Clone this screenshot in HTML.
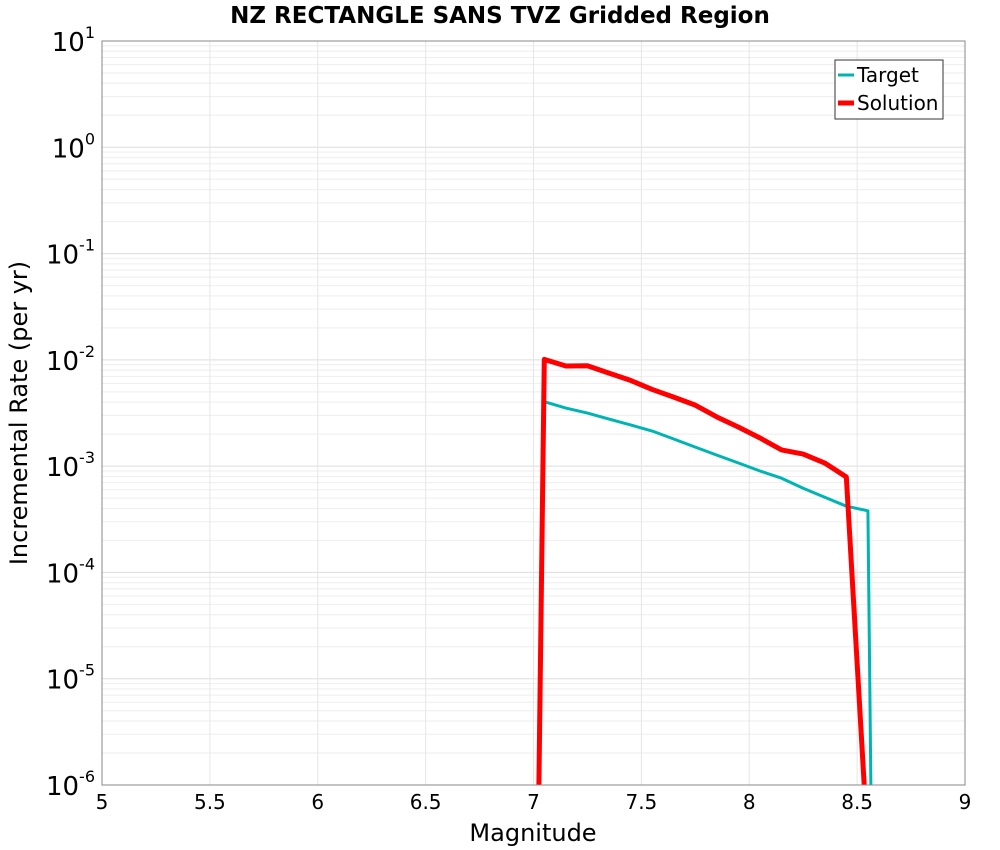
<!DOCTYPE html>
<html><head><meta charset="utf-8"><style>
html,body{margin:0;padding:0;background:#fff;overflow:hidden;font-family:"Liberation Sans","DejaVu Sans",sans-serif}
svg{display:block}
</style></head><body>
<svg id="chart" width="1000" height="850" xmlns="http://www.w3.org/2000/svg" font-family="DejaVu Sans, Liberation Sans, sans-serif">
<text x="500" y="23" text-anchor="middle" font-size="23" font-weight="bold">NZ RECTANGLE SANS TVZ Gridded Region</text>
<g id="grid"></g>
<defs><clipPath id="clip"><rect x="102" y="41" width="863" height="744"/></clipPath></defs>
<g id="series" clip-path="url(#clip)"></g>
<rect x="102" y="41" width="863" height="744" fill="none" stroke="#888" stroke-width="1"/>
<g id="xticks"></g><g id="yticks"></g>
<text x="533" y="841" text-anchor="middle" font-size="24">Magnitude</text>
<text transform="translate(27,413) rotate(-90)" text-anchor="middle" font-size="24">Incremental Rate (per yr)</text>
<g>
<rect x="835" y="60" width="108" height="59" fill="#fff" stroke="#333"/>
<line x1="838" y1="75" x2="854" y2="75" stroke="#00b4b4" stroke-width="3"/>
<text x="857" y="82" font-size="20">Target</text>
<line x1="838" y1="103" x2="854" y2="103" stroke="#f00" stroke-width="5"/>
<text x="857" y="110" font-size="20">Solution</text>
</g>
</svg>
<script>
const mags=[7.05,7.15,7.25,7.35,7.45,7.55,7.65,7.75,7.85,7.95,8.05,8.15,8.25,8.35,8.45,8.55];
const targetRates=[0.00404,0.00352,0.00316,0.00277,0.00244,0.00214,0.00180,0.00151,0.00127,0.00107,0.00090,0.00077,0.00062,0.00051,0.00042,0.00038];
const solutionRates=[0.0101,0.00875,0.0088,0.00751,0.00641,0.00527,0.00446,0.00375,0.00290,0.00233,0.00184,0.00142,0.00130,0.00107,0.00079,0.00000025];
const xTicks=[5,5.5,6,6.5,7,7.5,8,8.5,9];
const yExps=[-6,-5,-4,-3,-2,-1,0,1];
const X0=102,X1=965,Y0=785,Y1=41;
const xs=m=>X0+(m-5)/4*(X1-X0);
const ys=v=>Y0-(Math.log10(v)+6)/7*(Y0-Y1);
const NS="http://www.w3.org/2000/svg";
function mk(t,a,p){const e=document.createElementNS(NS,t);for(const k in a)e.setAttribute(k,a[k]);p.appendChild(e);return e;}
const grid=document.getElementById('grid');
for(let e=-6;e<1;e++)for(let k=1;k<10;k++){const y=ys(k*Math.pow(10,e));
const l=mk('line',{x1:X0,x2:X1,y1:y,y2:y,stroke:k==1?'#ddd':'#eee','stroke-width':1},grid);

}
xTicks.forEach(t=>{const x=xs(t);const l=mk('line',{x1:x,x2:x,y1:Y0,y2:Y1,stroke:'#e6e6e6'},grid);


const tx=mk('text',{x:x,y:809,'text-anchor':'middle','font-size':20},document.getElementById('xticks'));tx.textContent=t;

});
yExps.forEach(e=>{const y=ys(Math.pow(10,e));const g=document.getElementById('yticks');
const tx=mk('text',{x:95,y:y+10,'text-anchor':'end','font-size':26},g);


tx.appendChild(document.createTextNode('10'));const s=mk('tspan',{dy:-13,'font-size':16},tx);s.textContent=String(e);});
const ser=document.getElementById('series');
function line(xsA,vals,color,w,name,startM,endM){
 let pts=[];if(startM!=null)pts.push([xs(startM),ys(1e-10)]);
 xsA.forEach((m,i)=>pts.push([xs(m),ys(vals[i])]));
 if(endM!=null)pts.push([xs(endM),ys(1e-10)]);
 const p=mk('polyline',{points:pts.map(p=>p.join(',')).join(' '),fill:'none',stroke:color,'stroke-width':w,'stroke-linejoin':'round'},ser);
 
 }
line(mags,targetRates,'#00b4b4',3,'target-line',null,8.585);
line(mags,solutionRates,'#ff0000',5,'solution-line',7.0,null);
</script>
</body></html>
